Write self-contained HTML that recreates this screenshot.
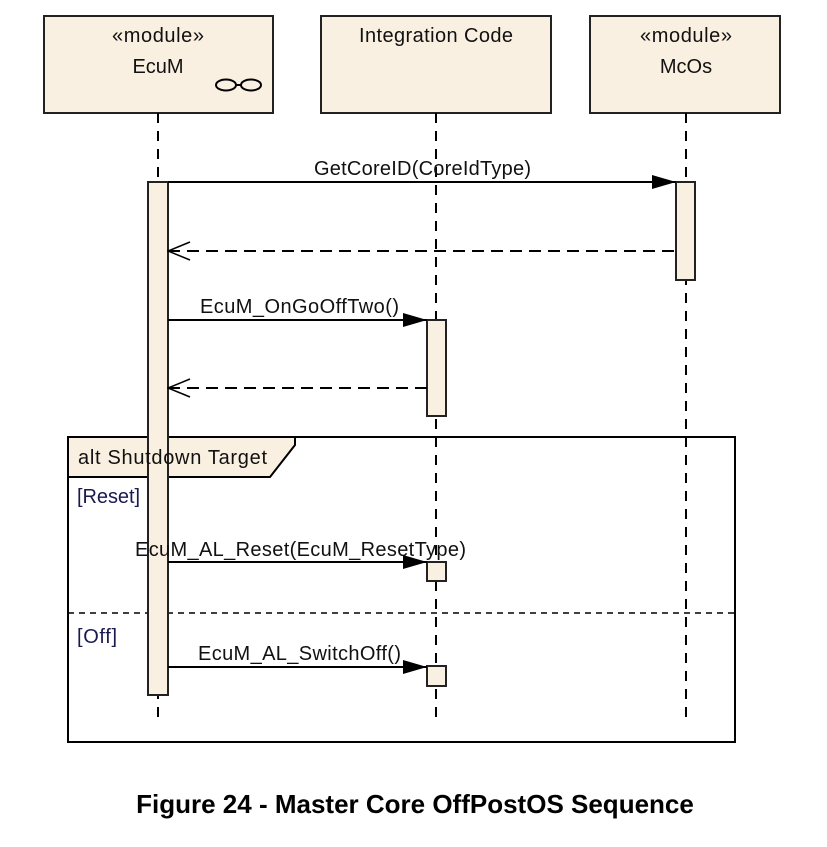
<!DOCTYPE html>
<html><head><meta charset="utf-8"><style>body{margin:0;background:#fff}</style></head><body>
<svg width="827" height="842" xmlns="http://www.w3.org/2000/svg" font-family="Liberation Sans, sans-serif" font-size="20">
<defs>
<marker id="f" markerWidth="24" markerHeight="16" refX="24" refY="8" orient="auto" markerUnits="userSpaceOnUse"><path d="M0,1 L24,8 L0,15z" fill="#000"/></marker>
<marker id="o" markerWidth="24" markerHeight="20" refX="1" refY="10" orient="auto" markerUnits="userSpaceOnUse"><path d="M23,1 L1,10 L23,19" fill="none" stroke="#000" stroke-width="1.5"/></marker>
</defs>
<g fill="#faf0e1" stroke="#222" stroke-width="2">
<rect x="44" y="16" width="229" height="97"/>
<rect x="321" y="16" width="230" height="97"/>
<rect x="590" y="16" width="190" height="97"/>
</g>
<g fill="#111" text-anchor="middle">
<text x="158" y="42" textLength="92">«module»</text><text x="158" y="73">EcuM</text>
<text x="436" y="42" textLength="154">Integration Code</text>
<text x="686" y="42" textLength="92">«module»</text><text x="686" y="73">McOs</text>
</g>
<g fill="none" stroke="#000" stroke-width="2"><ellipse cx="226" cy="85" rx="10" ry="5.5"/><ellipse cx="251" cy="85" rx="10" ry="5.5"/><line x1="236" y1="85" x2="241" y2="85"/></g>
<g stroke="#000" stroke-width="2" stroke-dasharray="10,8">
<line x1="158" y1="113" x2="158" y2="725"/>
<line x1="436" y1="113" x2="436" y2="725"/>
<line x1="686" y1="113" x2="686" y2="725"/>
</g>
<rect x="68" y="437" width="667" height="305" fill="none" stroke="#000" stroke-width="2"/>
<path d="M68,437 H295 V445 L270,477 H68z" fill="#faf0e1" stroke="#000" stroke-width="2"/>
<line x1="68" y1="613" x2="735" y2="613" stroke="#000" stroke-width="1.5" stroke-dasharray="6,5"/>
<g fill="#faf0e1" stroke="#222" stroke-width="2">
<rect x="148" y="182" width="20" height="513"/>
<rect x="676" y="182" width="19" height="98"/>
<rect x="427" y="320" width="19" height="96"/>
<rect x="427" y="562" width="19" height="19"/>
<rect x="427" y="666" width="19" height="20"/>
</g>
<g stroke="#000" stroke-width="2">
<line x1="168" y1="182" x2="676" y2="182" marker-end="url(#f)"/>
<line x1="168" y1="320" x2="427" y2="320" marker-end="url(#f)"/>
<line x1="168" y1="562" x2="427" y2="562" marker-end="url(#f)"/>
<line x1="168" y1="667" x2="427" y2="667" marker-end="url(#f)"/>
<line x1="168" y1="251" x2="676" y2="251" stroke-dasharray="12,7" marker-start="url(#o)"/>
<line x1="168" y1="388" x2="427" y2="388" stroke-dasharray="12,7" marker-start="url(#o)"/>
</g>
<g fill="#111">
<text x="314" y="175" textLength="217">GetCoreID(CoreIdType)</text>
<text x="200" y="313" textLength="199">EcuM_OnGoOffTwo()</text>
<text x="135" y="556" textLength="331">EcuM_AL_Reset(EcuM_ResetType)</text>
<text x="198" y="660" textLength="203">EcuM_AL_SwitchOff()</text>
<text x="78" y="464" textLength="189">alt Shutdown Target</text>
<text x="77" y="503" fill="#1a1a50" textLength="63">[Reset]</text>
<text x="77" y="643" fill="#1a1a50" textLength="40">[Off]</text>
</g>
<text x="415" y="813" text-anchor="middle" font-weight="bold" font-size="26">Figure 24 - Master Core OffPostOS Sequence</text>
</svg>
</body></html>
